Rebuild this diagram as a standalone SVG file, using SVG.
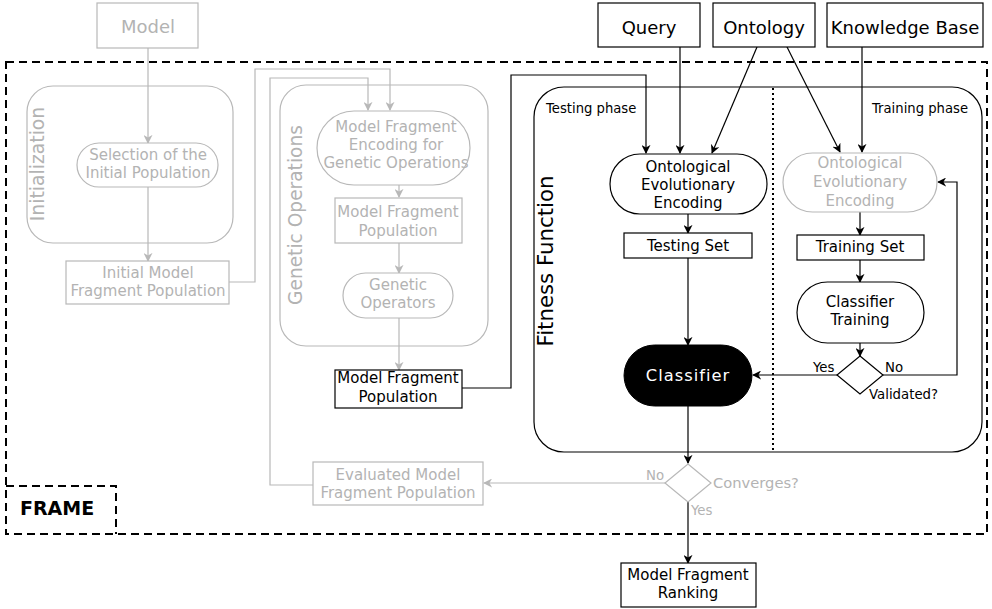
<svg xmlns="http://www.w3.org/2000/svg" width="992" height="609" viewBox="0 0 992 609">
  <defs>
    <marker id="arrB" viewBox="0 0 10 10" refX="9" refY="5" markerWidth="9" markerHeight="9" markerUnits="userSpaceOnUse" orient="auto">
      <path d="M0,0 L10,5 L0,10 L3,5 z" fill="#000"/>
    </marker>
    <marker id="arrG" viewBox="0 0 10 10" refX="9" refY="5" markerWidth="9" markerHeight="9" markerUnits="userSpaceOnUse" orient="auto">
      <path d="M0,0 L10,5 L0,10 L3,5 z" fill="#b8b8b8"/>
    </marker>
    <style>
      text { font-family: "DejaVu Sans", Verdana, sans-serif; }
      .t { font-size: 15px; text-anchor: middle; fill: #000; }
      .tg { font-size: 15px; text-anchor: middle; fill: #b3b3b3; }
      .big { font-size: 18px; text-anchor: middle; }
      .lab { font-size: 13.3px; }
      .ph { font-size: 13.2px; }
      .box { fill: #fff; stroke: #000; stroke-width: 1.2; }
      .boxg { fill: #fff; stroke: #b8b8b8; stroke-width: 1.2; }
      .grp { fill: none; stroke: #000; stroke-width: 1.2; }
      .grpg { fill: none; stroke: #b8b8b8; stroke-width: 1.2; }
      .e { fill: none; stroke: #000; stroke-width: 1.2; marker-end: url(#arrB); }
      .eg { fill: none; stroke: #b8b8b8; stroke-width: 1.2; marker-end: url(#arrG); }
    </style>
  </defs>
  <rect width="992" height="609" fill="#fff"/>

  <!-- outer frame -->
  <g id="frame">
    <rect x="6" y="62" width="981" height="472" fill="none" stroke="#000" stroke-width="2" stroke-dasharray="8,5"/>
    <path d="M6,486 H116 V534" fill="none" stroke="#000" stroke-width="2" stroke-dasharray="8,5"/>
    <text x="20" y="515" style="font-size:19px;font-weight:bold">FRAME</text>
  </g>

  <!-- containers -->
  <g id="initialization">
    <rect x="27" y="86" width="206" height="157" rx="26" class="grpg"/>
    <text transform="rotate(-90 44 164)" x="44" y="164" style="font-size:18.8px;text-anchor:middle;fill:#b3b3b3">Initialization</text>
  </g>
  <g id="genetic-operations">
    <rect x="280" y="85" width="208" height="261" rx="26" class="grpg"/>
    <text transform="rotate(-90 302 215)" x="302" y="215" style="font-size:18.6px;text-anchor:middle;fill:#b3b3b3">Genetic Operations</text>
  </g>
  <g id="fitness-function">
    <rect x="534" y="87" width="448" height="365" rx="30" class="grp"/>
    <line x1="773" y1="88" x2="773" y2="451" stroke="#000" stroke-width="2" stroke-dasharray="2,3"/>
    <text transform="rotate(-90 553 261)" x="553" y="261" style="font-size:21.3px;text-anchor:middle">Fitness Function</text>
    <text x="546" y="113" class="ph">Testing phase</text>
    <text x="872" y="113" class="ph">Training phase</text>
  </g>

  <!-- connectors -->
  <g id="connectors">
    <path d="M148,48 V143" class="eg"/>
    <path d="M148,187 V261" class="eg"/>
    <path d="M229,282 H255 V69 H390 V110" class="eg"/>
    <path d="M313,485 H270 V78 H368 V110" class="eg"/>
    <path d="M399,185 V197" class="eg"/>
    <path d="M399,243 V273" class="eg"/>
    <path d="M399,318 V370" class="eg"/>
    <path d="M462,388 H511 V75 H646 V153" class="e"/>
    <path d="M680,47 V153" class="e"/>
    <path d="M757,47 L712,153" class="e"/>
    <path d="M787,47 L840,152" class="e"/>
    <path d="M862,47 V152" class="e"/>
    <path d="M688,214 V233" class="e"/>
    <path d="M860,212 V235" class="e"/>
    <path d="M688,258 V345" class="e"/>
    <path d="M860,260 V282" class="e"/>
    <path d="M860,343 V356" class="e"/>
    <path d="M837,375 H753" class="e"/>
    <path d="M883,375 H957 V182 H938" class="e"/>
    <path d="M688,406 V463" class="e"/>
    <path d="M665,483 H484" class="eg"/>
    <path d="M688,502 V563" class="e"/>
  </g>

  <!-- external inputs -->
  <g id="model">
    <rect x="97" y="3" width="101" height="45" class="boxg"/>
    <text x="148" y="33" class="big" style="fill:#b3b3b3">Model</text>
  </g>
  <g id="query">
    <rect x="598" y="3" width="102" height="44" class="box"/>
    <text x="649" y="34" class="big">Query</text>
  </g>
  <g id="ontology">
    <rect x="713" y="3" width="102" height="44" class="box"/>
    <text x="764" y="34" class="big">Ontology</text>
  </g>
  <g id="knowledge-base">
    <rect x="827" y="3" width="156" height="44" class="box"/>
    <text x="905" y="34" class="big">Knowledge Base</text>
  </g>

  <!-- initialization -->
  <g id="selection">
    <rect x="77" y="143" width="141" height="44" rx="22" class="boxg"/>
    <text x="148" y="160" class="tg">Selection of the</text>
    <text x="148" y="178" class="tg">Initial Population</text>
  </g>
  <g id="initial-population">
    <rect x="66" y="261" width="163" height="43" class="boxg"/>
    <text x="148" y="278" class="tg">Initial Model</text>
    <text x="148" y="296" class="tg">Fragment Population</text>
  </g>

  <!-- genetic operations -->
  <g id="fragment-encoding">
    <rect x="317" y="111" width="153" height="74" rx="37" class="boxg"/>
    <text x="396" y="132" class="tg">Model Fragment</text>
    <text x="396" y="150" class="tg">Encoding for</text>
    <text x="396" y="168" class="tg">Genetic Operations</text>
  </g>
  <g id="fragment-population-inner">
    <rect x="335" y="198" width="127" height="45" class="boxg"/>
    <text x="398" y="217" class="tg">Model Fragment</text>
    <text x="398" y="236" class="tg">Population</text>
  </g>
  <g id="genetic-operators">
    <rect x="343" y="273" width="110" height="45" rx="22.5" class="boxg"/>
    <text x="398" y="290" class="tg">Genetic</text>
    <text x="398" y="308" class="tg">Operators</text>
  </g>
  <g id="fragment-population">
    <rect x="335" y="370" width="127" height="38" class="box"/>
    <text x="398" y="383" class="t">Model Fragment</text>
    <text x="398" y="402" class="t">Population</text>
  </g>

  <!-- fitness function: testing -->
  <g id="encoding-testing">
    <rect x="610" y="154" width="157" height="60" rx="30" class="box"/>
    <text x="688" y="172" class="t">Ontological</text>
    <text x="688" y="190" class="t">Evolutionary</text>
    <text x="688" y="208" class="t">Encoding</text>
  </g>
  <g id="testing-set">
    <rect x="624" y="233" width="128" height="25" class="box"/>
    <text x="688" y="251" class="t">Testing Set</text>
  </g>
  <g id="classifier">
    <rect x="624" y="345" width="128" height="61" rx="30.5" fill="#000" stroke="#000"/>
    <text x="688" y="381" style="font-size:16.3px;text-anchor:middle;fill:#fff;letter-spacing:1px">Classifier</text>
  </g>

  <!-- fitness function: training -->
  <g id="encoding-training">
    <rect x="783" y="153" width="154" height="59" rx="29.5" class="boxg"/>
    <text x="860" y="168" class="tg">Ontological</text>
    <text x="860" y="187" class="tg">Evolutionary</text>
    <text x="860" y="206" class="tg">Encoding</text>
  </g>
  <g id="training-set">
    <rect x="797" y="235" width="127" height="25" class="box"/>
    <text x="860" y="252" class="t">Training Set</text>
  </g>
  <g id="classifier-training">
    <rect x="797" y="282" width="127" height="61" rx="30.5" class="box"/>
    <text x="860" y="307" class="t">Classifier</text>
    <text x="860" y="325" class="t">Training</text>
  </g>
  <g id="validated">
    <polygon points="860,356 883,375 860,394 837,375" class="box"/>
    <text x="813" y="372" class="lab">Yes</text>
    <text x="885" y="372" class="lab">No</text>
    <text x="869" y="399" class="lab">Validated?</text>
  </g>

  <!-- convergence -->
  <g id="converges">
    <polygon points="688,464 711,483 688,502 665,483" class="boxg"/>
    <text x="713" y="488" style="font-size:14.7px;fill:#b3b3b3">Converges?</text>
    <text x="646" y="480" class="lab" style="fill:#b3b3b3">No</text>
    <text x="691" y="515" class="lab" style="fill:#b3b3b3">Yes</text>
  </g>
  <g id="evaluated-population">
    <rect x="313" y="462" width="170" height="43" class="boxg"/>
    <text x="398" y="480" class="tg">Evaluated Model</text>
    <text x="398" y="498" class="tg">Fragment Population</text>
  </g>
  <g id="ranking">
    <rect x="621" y="563" width="135" height="44" class="box"/>
    <text x="688" y="580" class="t">Model Fragment</text>
    <text x="688" y="598" class="t">Ranking</text>
  </g>
</svg>
